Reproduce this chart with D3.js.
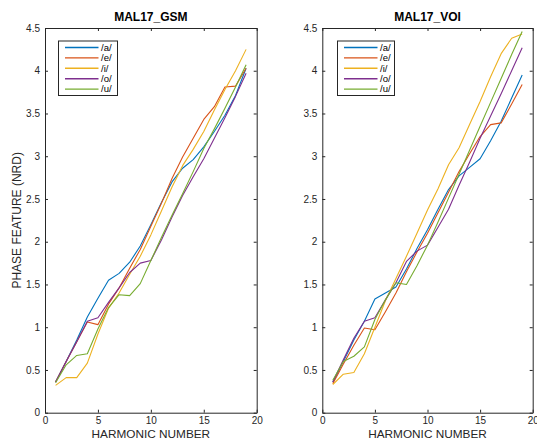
<!DOCTYPE html>
<html>
<head>
<meta charset="utf-8">
<script src="https://cdn.jsdelivr.net/npm/d3@7"></script>
<style>
  html, body { margin: 0; padding: 0; background: #fff; }
  svg { display: block; font-family: "Liberation Sans", Arial, Helvetica, sans-serif; }
</style>
</head>
<body>
<svg id="chart" width="537" height="439"></svg>
<script>
// Harmonic index shared by every curve
const harmonics = [1, 2, 3, 4, 5, 6, 7, 8, 9, 10, 11, 12, 13, 14, 15, 16, 17, 18, 19];

// Vowel labels and their line colours
const vowels = ["/a/", "/e/", "/i/", "/o/", "/u/"];
const vowelColors = ["#0072BD", "#D95319", "#EDB120", "#7E2F8E", "#77AC30"];

// MAL17_GSM phase feature per vowel
const gsmA = [0.36, 0.60, 0.85, 1.12, 1.34, 1.55, 1.63, 1.76, 1.95, 2.20, 2.46, 2.70, 2.86, 2.96, 3.11, 3.29, 3.48, 3.71, 4.03];
const gsmE = [0.36, 0.60, 0.83, 1.06, 1.03, 1.27, 1.46, 1.69, 1.91, 2.18, 2.45, 2.74, 2.99, 3.21, 3.43, 3.58, 3.81, 3.82, 4.03];
const gsmI = [0.32, 0.41, 0.41, 0.58, 0.92, 1.22, 1.40, 1.62, 1.83, 2.08, 2.36, 2.64, 2.89, 3.08, 3.29, 3.54, 3.78, 4.00, 4.25];
const gsmO = [0.36, 0.60, 0.83, 1.07, 1.11, 1.29, 1.46, 1.64, 1.75, 1.78, 2.02, 2.29, 2.54, 2.76, 2.97, 3.21, 3.45, 3.70, 3.97];
const gsmU = [0.35, 0.56, 0.67, 0.69, 0.98, 1.23, 1.38, 1.37, 1.51, 1.78, 2.05, 2.31, 2.56, 2.82, 3.09, 3.32, 3.56, 3.81, 4.07];

// MAL17_VOI phase feature per vowel
const voiA = [0.36, 0.60, 0.85, 1.07, 1.33, 1.40, 1.47, 1.68, 1.92, 2.14, 2.38, 2.61, 2.77, 2.87, 2.97, 3.18, 3.41, 3.68, 3.95];
const voiE = [0.34, 0.57, 0.79, 0.99, 0.97, 1.18, 1.40, 1.65, 1.88, 2.10, 2.34, 2.58, 2.82, 3.03, 3.23, 3.37, 3.39, 3.61, 3.84];
const voiI = [0.33, 0.45, 0.47, 0.69, 1.00, 1.31, 1.57, 1.83, 2.10, 2.37, 2.62, 2.90, 3.10, 3.37, 3.64, 3.93, 4.20, 4.38, 4.43];
const voiO = [0.36, 0.62, 0.87, 1.07, 1.11, 1.32, 1.52, 1.77, 1.89, 1.96, 2.17, 2.38, 2.66, 2.93, 3.21, 3.47, 3.73, 4.00, 4.27];
const voiU = [0.38, 0.60, 0.66, 0.77, 1.09, 1.32, 1.52, 1.50, 1.72, 1.96, 2.23, 2.51, 2.79, 3.07, 3.35, 3.63, 3.91, 4.19, 4.46];

// Axis ticks
const xTicks = [0, 5, 10, 15, 20];
const yTicks = [0, 0.5, 1, 1.5, 2, 2.5, 3, 3.5, 4, 4.5];

const panels = [
  { title: "MAL17_GSM", series: [gsmA, gsmE, gsmI, gsmO, gsmU], left: 45, right: 256.7, legendX: 58.5, legendW: 59, showYLabel: true },
  { title: "MAL17_VOI", series: [voiA, voiE, voiI, voiO, voiU], left: 322.3, right: 532.7, legendX: 337.5, legendW: 57, showYLabel: false }
];

const plotTop = 28, plotBottom = 412.7;
const axisColor = "#262626";
const tickLen = 3;
const svg = d3.select("#chart");

panels.forEach(p => {
  const x = d3.scaleLinear().domain([0, 20]).range([p.left, p.right]);
  const y = d3.scaleLinear().domain([0, 4.5]).range([plotBottom, plotTop]);
  const g = svg.append("g");

  // Data lines
  const line = d3.line().x((d, i) => x(harmonics[i])).y(d => y(d));
  p.series.forEach((s, k) => {
    g.append("path")
      .datum(s)
      .attr("d", line)
      .attr("fill", "none")
      .attr("stroke", vowelColors[k])
      .attr("stroke-width", 1.1)
      .attr("stroke-linejoin", "round");
  });

  // Box axes with inward ticks on all four sides
  const xb = d3.axisBottom(x).tickValues(xTicks).tickSizeInner(-tickLen).tickSizeOuter(0).tickPadding(4).tickFormat(d3.format("d"));
  const xt = d3.axisTop(x).tickValues(xTicks).tickSizeInner(-tickLen).tickSizeOuter(0).tickFormat("");
  const yl = d3.axisLeft(y).tickValues(yTicks).tickSizeInner(-tickLen).tickSizeOuter(0).tickPadding(5).tickFormat(d3.format("~g"));
  const yr = d3.axisRight(y).tickValues(yTicks).tickSizeInner(-tickLen).tickSizeOuter(0).tickFormat("");

  const axes = [
    g.append("g").attr("transform", `translate(0,${plotBottom})`).call(xb),
    g.append("g").attr("transform", `translate(0,${plotTop})`).call(xt),
    g.append("g").attr("transform", `translate(${p.left},0)`).call(yl),
    g.append("g").attr("transform", `translate(${p.right},0)`).call(yr)
  ];
  axes.forEach(a => {
    a.select(".domain").attr("stroke", axisColor).attr("stroke-width", 1);
    a.selectAll(".tick line").attr("stroke", axisColor).attr("stroke-width", 1);
    a.selectAll(".tick text").attr("fill", axisColor).attr("font-size", 10).attr("font-family", "Liberation Sans, Arial, sans-serif");
  });

  // Title
  g.append("text")
    .attr("x", (p.left + p.right) / 2)
    .attr("y", 21)
    .attr("text-anchor", "middle")
    .attr("font-size", 12)
    .attr("font-weight", "bold")
    .attr("fill", "#000")
    .text(p.title);

  // X axis label
  g.append("text")
    .attr("x", (p.left + p.right) / 2)
    .attr("y", 437.5)
    .attr("text-anchor", "middle")
    .attr("font-size", 11.8)
    .attr("fill", axisColor)
    .text("HARMONIC NUMBER");

  if (p.showYLabel) {
    g.append("text")
      .attr("transform", `translate(21,${(plotTop + plotBottom) / 2}) rotate(-90)`)
      .attr("text-anchor", "middle")
      .attr("font-size", 12)
      .attr("fill", axisColor)
      .text("PHASE FEATURE (NRD)");
  }

  // Legend
  const lg = g.append("g").attr("transform", `translate(${p.legendX},41)`);
  lg.append("rect")
    .attr("width", p.legendW).attr("height", 54.5)
    .attr("fill", "#fff").attr("stroke", axisColor).attr("stroke-width", 1);
  vowels.forEach((v, k) => {
    const yy = 6.5 + k * 10.4;
    lg.append("line")
      .attr("x1", 6.5).attr("x2", 40)
      .attr("y1", yy).attr("y2", yy)
      .style("stroke", vowelColors[k]).style("stroke-width", "1.4px");
    lg.append("text")
      .attr("x", 42.5).attr("y", yy + 3.3)
      .attr("font-size", 9.5)
      .attr("fill", "#000")
      .text(v);
  });
});
</script>
</body>
</html>
